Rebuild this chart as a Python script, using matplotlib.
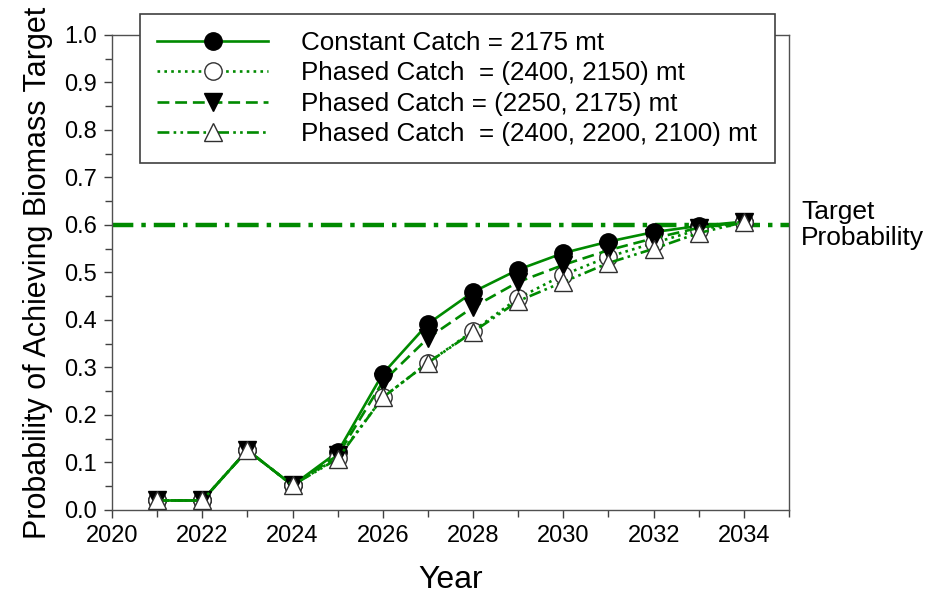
import matplotlib
matplotlib.use("Agg")
import matplotlib.pyplot as plt
from matplotlib.ticker import MultipleLocator

plt.rcParams['font.family'] = ['Liberation Sans', 'DejaVu Sans']

years = [2021, 2022, 2023, 2024, 2025, 2026, 2027, 2028, 2029, 2030, 2031, 2032, 2033, 2034]
constant_2175 = [0.020, 0.020, 0.126, 0.052, 0.122, 0.287, 0.392, 0.459, 0.506, 0.541, 0.565, 0.585, 0.598, 0.607]
phased_2400_2150 = [0.020, 0.020, 0.126, 0.052, 0.110, 0.237, 0.310, 0.377, 0.446, 0.495, 0.533, 0.562, 0.590, 0.607]
phased_2250_2175 = [0.020, 0.020, 0.126, 0.052, 0.115, 0.270, 0.362, 0.427, 0.480, 0.516, 0.547, 0.572, 0.594, 0.607]
phased_2400_2200_2100 = [0.020, 0.020, 0.126, 0.052, 0.108, 0.237, 0.310, 0.375, 0.440, 0.480, 0.520, 0.550, 0.583, 0.606]
target_probability = 0.6

labels = ["Constant Catch = 2175 mt",
          "Phased Catch  = (2400, 2150) mt",
          "Phased Catch = (2250, 2175) mt",
          "Phased Catch  = (2400, 2200, 2100) mt"]

green = '#008a00'
fig = plt.figure(figsize=(9.32, 6.0), dpi=100)
ax = fig.add_axes([0.1202, 0.15, 0.7264, 0.7917])

ax.axhline(target_probability, color=green, lw=3.2, linestyle=(0, (4.8, 1.8, 1.0, 1.8)), zorder=1)

ms = 12.5
lw = 1.9
ax.plot(years, constant_2175, color=green, lw=lw, linestyle='-', marker='o', ms=ms,
        mfc='black', mec='black', label=labels[0], zorder=3)
ax.plot(years, phased_2400_2150, color=green, lw=lw, linestyle=(0, (1, 1.6)), marker='o', ms=ms,
        mfc='white', mec='#303030', mew=1.0, label=labels[1], zorder=3)
ax.plot(years, phased_2250_2175, color=green, lw=lw, linestyle=(0, (4.5, 2.2)), marker='v', ms=ms,
        mfc='black', mec='black', label=labels[2], zorder=3)
ax.plot(years, phased_2400_2200_2100, color=green, lw=lw, linestyle=(0, (4.5, 1.6, 1, 1.6, 1, 1.6)),
        marker='^', ms=ms + 1, mfc='white', mec='#303030', mew=1.0, label=labels[3], zorder=3)

ax.set_xlim(2020, 2035)
ax.set_ylim(0, 1.0)
ax.xaxis.set_minor_locator(MultipleLocator(1))
ax.yaxis.set_major_locator(MultipleLocator(0.1))
ax.yaxis.set_minor_locator(MultipleLocator(0.05))
ax.set_xticks([2020, 2022, 2024, 2026, 2028, 2030, 2032, 2034])
ax.tick_params(which='both', direction='out', length=6, width=1.0, color='#404040', labelsize=17, pad=5)
ax.tick_params(which='minor', length=5)
ax.yaxis.set_major_formatter(matplotlib.ticker.FormatStrFormatter('%.1f'))
for s in ax.spines.values():
    s.set_color('#505050')
    s.set_linewidth(1.0)

ax.set_xlabel('Year', fontsize=23, labelpad=13)
ax.set_ylabel('Probability of Achieving Biomass Target', fontsize=22, labelpad=8)

ax.text(1.018, 0.6, 'Target\nProbability', transform=ax.transAxes, fontsize=19,
        va='center', ha='left', linespacing=1.15)

leg = ax.legend(loc='upper left', bbox_to_anchor=(0.150, 0.22, 0.6816, 0.7567),
                bbox_transform=fig.transFigure, mode='expand', fontsize=18.7, frameon=True,
                fancybox=False, edgecolor='#404040', framealpha=1.0, handlelength=4.3,
                handletextpad=1.25, labelspacing=0.25, borderpad=0.65, borderaxespad=0)
leg.get_frame().set_linewidth(1.2)
leg.set_zorder(10)

fig.savefig('out.png', dpi=100)
